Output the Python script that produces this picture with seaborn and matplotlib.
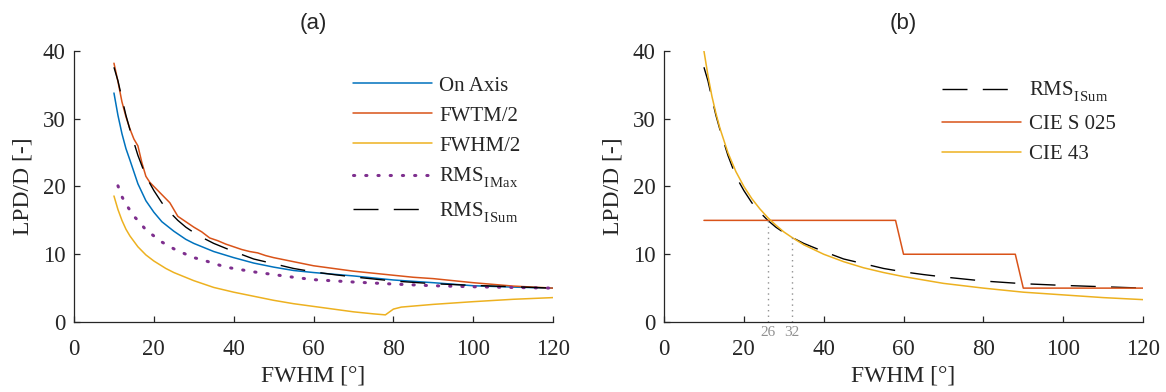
import matplotlib
matplotlib.use('Agg')
import matplotlib.pyplot as plt
import seaborn as sns

# Data
x_axis = [10, 11, 12, 13, 14, 16, 18, 20, 22, 25, 28, 30, 35, 40, 45, 50, 55, 60, 70, 80, 90, 100, 110, 120]
on_axis = [33.8, 30.5, 27.8, 25.6, 23.9, 20.4, 17.9, 16.2, 14.8, 13.4, 12.2, 11.6, 10.4, 9.5, 8.7, 8.1,
           7.6, 7.3, 6.8, 6.2, 5.8, 5.35, 5.15, 5.0]

x_fwtm = [10, 11, 12, 13, 14, 15, 16, 17, 18, 19, 20, 22, 24, 26, 28, 30, 32, 34, 36, 38, 40, 42, 44,
          46, 48, 50, 55, 60, 65, 70, 75, 80, 85, 90, 95, 100, 110, 120]
fwtm = [38.2, 35.5, 32.5, 30.3, 28.5, 27.0, 26.0, 23.5, 21.5, 20.6, 20.0, 18.8, 17.6, 15.6, 14.8, 14.0,
        13.3, 12.4, 12.0, 11.5, 11.1, 10.7, 10.4, 10.2, 9.8, 9.5, 8.9, 8.3, 7.9, 7.5, 7.2, 6.9, 6.6,
        6.4, 6.1, 5.8, 5.3, 5.0]

x_fwhm = [10, 11, 12, 13, 14, 16, 18, 20, 23, 25, 30, 35, 40, 45, 50, 55, 60, 65, 70, 75, 78, 80, 82,
          90, 100, 110, 120]
fwhm = [18.6, 16.6, 15.0, 13.7, 12.7, 11.1, 9.9, 9.0, 7.9, 7.3, 6.1, 5.1, 4.4, 3.8, 3.2, 2.7, 2.3, 1.9,
        1.5, 1.2, 1.05, 1.9, 2.2, 2.6, 3.0, 3.35, 3.6]

x_imax = [11, 12, 13, 14, 15, 16, 18, 20, 22, 25, 28, 30, 32, 35, 38, 40, 45, 50, 55, 60, 70, 80, 90,
          100, 110, 120]
rms_imax = [20.1, 18.5, 17.4, 16.5, 15.6, 15.0, 13.6, 12.7, 11.8, 10.8, 10.0, 9.5, 9.2, 8.65, 8.1, 7.9,
            7.4, 7.0, 6.6, 6.25, 5.9, 5.6, 5.35, 5.2, 5.1, 5.0]

x_isum = [10, 11, 12, 13, 14, 16, 18, 20, 22, 24, 26, 28, 30, 32, 35, 40, 45, 50, 55, 60, 65, 70, 75,
          80, 90, 100, 110, 120]
rms_isum = [37.6, 35.6, 33.0, 30.5, 28.4, 24.6, 21.5, 19.4, 17.6, 16.2, 15.0, 14.0, 13.2, 12.5, 11.6,
            10.4, 9.3, 8.6, 7.9, 7.4, 7.0, 6.65, 6.35, 6.05, 5.65, 5.4, 5.2, 5.0]

x_cie43 = [10, 11, 12, 13, 14, 16, 18, 20, 22, 24, 26, 28, 30, 32, 35, 40, 45, 50, 55, 60, 70, 80, 90,
           100, 110, 120]
cie43 = [40.0, 36.4, 33.3, 30.8, 28.6, 25.0, 22.2, 20.0, 18.2, 16.7, 15.4, 14.3, 13.3, 12.5, 11.4, 10.0,
         8.9, 8.0, 7.3, 6.7, 5.7, 5.0, 4.4, 4.0, 3.6, 3.3]

x_s025 = [10, 58, 60, 88, 90, 120]
cie_s025 = [15, 15, 10, 10, 5, 5]

cross_x = [26, 32]
cross_y = [15.0, 12.7]

BLUE = '#0072BD'
RED = '#D95319'
YELLOW = '#EDB120'
PURPLE = '#7E2F8E'
DASH = (0, (18, 11))
SUB_MAX = r'RMS$\genfrac{}{}{0}{}{\,}{\mathrm{I\,Max}}$'
SUB_SUM = r'RMS$\genfrac{}{}{0}{}{\,}{\mathrm{I\,Sum}}$'

sns.set_style('ticks')
plt.rcParams['font.family'] = ['Liberation Serif', 'DejaVu Serif']
plt.rcParams['mathtext.fontset'] = 'custom'
plt.rcParams['mathtext.rm'] = 'Liberation Serif'
plt.rcParams['mathtext.it'] = 'Liberation Serif'
plt.rcParams['xtick.direction'] = 'in'
plt.rcParams['ytick.direction'] = 'in'

fig = plt.figure(figsize=(11.66, 3.92), dpi=100)
ax1 = fig.add_axes([0.0635, 0.1786, 0.4108, 0.6913])
ax2 = fig.add_axes([0.5695, 0.1786, 0.4108, 0.6913])

# %% Panel (a)
sns.lineplot(x=x_axis, y=on_axis, color=BLUE, lw=1.1, label='On Axis', ax=ax1)
sns.lineplot(x=x_fwtm, y=fwtm, color=RED, lw=1.1, label='FWTM/2', ax=ax1)
sns.lineplot(x=x_fwhm, y=fwhm, color=YELLOW, lw=1.1, label='FWHM/2', ax=ax1)
sns.lineplot(x=x_imax, y=rms_imax, color=PURPLE, lw=2.2, linestyle=(0, (0.4, 3.6)),
             dash_capstyle='round', label=SUB_MAX, ax=ax1)
sns.lineplot(x=x_isum, y=rms_isum, color='black', lw=1.0, linestyle=DASH, label=SUB_SUM, ax=ax1)

# %% Panel (b)
sns.lineplot(x=x_isum, y=rms_isum, color='black', lw=1.0, linestyle=DASH, label=SUB_SUM, ax=ax2)
sns.lineplot(x=x_s025, y=cie_s025, color=RED, lw=1.1, label='CIE S 025', ax=ax2, sort=False)
sns.lineplot(x=x_cie43, y=cie43, color=YELLOW, lw=1.1, label='CIE 43', ax=ax2)
for cx, cy in zip(cross_x, cross_y):
    ax2.plot([cx, cx], [0, cy], color='#909090', lw=1.0, linestyle=(0, (1, 3)))
    ax2.text(cx, -0.6, str(cx), ha='center', va='top', color='#909090', fontsize=11)

for ax, title in [(ax1, '(a)'), (ax2, '(b)')]:
    ax.set_xlim(0, 120)
    ax.set_ylim(0, 40)
    ax.set_xticks(range(0, 121, 20))
    ax.set_yticks(range(0, 41, 10))
    ax.tick_params(labelsize=16.5, length=4, width=0.9, color='#262626')
    ax.tick_params(axis='x', pad=12)
    ax.tick_params(axis='y', pad=6)
    for s in ['left', 'bottom']:
        ax.spines[s].set_linewidth(0.9)
        ax.spines[s].set_color('#262626')
    sns.despine(ax=ax)
    ax.set_xlabel('FWHM [°]', fontsize=17, labelpad=4)
    ax.set_ylabel('LPD/D [-]', fontsize=17, labelpad=7)
    ax.set_title(title, fontsize=16, family=['Liberation Sans', 'DejaVu Sans'], pad=16)

ax1.legend(loc='upper left', bbox_to_anchor=(0.565, 0.938), frameon=False, fontsize=15,
           handlelength=3.8, handletextpad=0.35, labelspacing=0.5, borderaxespad=0)
ax2.legend(loc='upper left', bbox_to_anchor=(0.563, 0.923), frameon=False, fontsize=15,
           handlelength=3.8, handletextpad=0.35, labelspacing=0.5, borderaxespad=0)

fig.savefig('out.png', dpi=100)
